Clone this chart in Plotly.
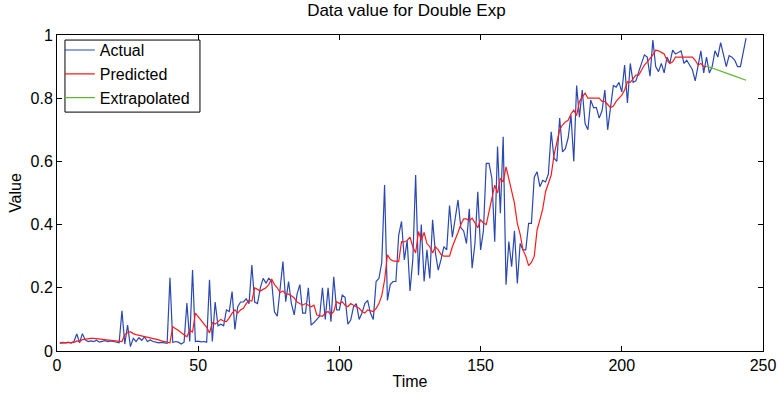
import plotly.graph_objects as go

# ---- data ----
actual = [
    0.025, 0.027, 0.026, 0.028, 0.025, 0.030, 0.054, 0.026, 0.055, 0.035,
    0.030, 0.032, 0.030, 0.034, 0.028, 0.031, 0.033, 0.030, 0.032, 0.030,
    0.028, 0.026, 0.127, 0.022, 0.082, 0.014, 0.040, 0.030, 0.042, 0.034,
    0.045, 0.030, 0.035, 0.030, 0.028, 0.026, 0.027, 0.025, 0.024, 0.232,
    0.027, 0.030, 0.028, 0.022, 0.028, 0.152, 0.030, 0.256, 0.030, 0.031,
    0.029, 0.030, 0.028, 0.225, 0.030, 0.155, 0.080, 0.085, 0.080, 0.130,
    0.125, 0.188, 0.068, 0.140, 0.155, 0.155, 0.165, 0.150, 0.272, 0.155,
    0.150, 0.200, 0.230, 0.215, 0.230, 0.220, 0.124, 0.110, 0.200, 0.283,
    0.156, 0.220, 0.150, 0.114, 0.180, 0.210, 0.120, 0.120, 0.200, 0.082,
    0.090, 0.100, 0.110, 0.200, 0.100, 0.200, 0.093, 0.235, 0.130, 0.130,
    0.177, 0.170, 0.085, 0.098, 0.140, 0.150, 0.100, 0.120, 0.150, 0.160,
    0.120, 0.100, 0.220, 0.230, 0.280, 0.525, 0.160, 0.210, 0.220, 0.220,
    0.367, 0.410, 0.288, 0.350, 0.190, 0.290, 0.557, 0.240, 0.400, 0.220,
    0.320, 0.230, 0.415, 0.310, 0.256, 0.290, 0.330, 0.320, 0.460, 0.360,
    0.415, 0.478, 0.390, 0.380, 0.340, 0.450, 0.262, 0.340, 0.504, 0.320,
    0.380, 0.594, 0.594, 0.546, 0.346, 0.647, 0.436, 0.678, 0.210, 0.346,
    0.267, 0.380, 0.214, 0.340, 0.320, 0.320, 0.404, 0.404, 0.550, 0.567,
    0.520, 0.540, 0.535, 0.560, 0.694, 0.610, 0.600, 0.737, 0.630, 0.640,
    0.674, 0.747, 0.600, 0.840, 0.740, 0.826, 0.720, 0.700, 0.794, 0.770,
    0.770, 0.737, 0.760, 0.826, 0.700, 0.770, 0.840, 0.835, 0.850, 0.820,
    0.905, 0.785, 0.910, 0.850, 0.855, 0.884, 0.910, 0.937, 0.930, 0.870,
    0.984, 0.900, 0.884, 0.910, 0.880, 0.930, 0.910, 0.952, 0.940, 0.945,
    0.950, 0.910, 0.920, 0.905, 0.890, 0.855, 0.900, 0.950, 0.880, 0.930,
    0.880, 0.900, 0.950, 0.930, 0.976, 0.940, 0.900, 0.935, 0.930, 0.920,
    0.900, 0.900, 0.950, 0.990,
]

predicted = [
    0.025, 0.025, 0.026, 0.026, 0.026, 0.027, 0.032, 0.030, 0.036, 0.038,
    0.040, 0.040, 0.040, 0.039, 0.038, 0.037, 0.036, 0.036, 0.035, 0.034,
    0.033, 0.032, 0.030, 0.052, 0.058, 0.061, 0.055, 0.052, 0.050, 0.048,
    0.046, 0.045, 0.043, 0.041, 0.038, 0.035, 0.032, 0.030, 0.028, 0.026,
    0.077, 0.072, 0.065, 0.058, 0.050, 0.045, 0.065, 0.060, 0.120, 0.108,
    0.096, 0.085, 0.075, 0.057, 0.090, 0.085, 0.092, 0.100, 0.095, 0.093,
    0.105, 0.120, 0.130, 0.120, 0.130, 0.135, 0.150, 0.160, 0.158, 0.200,
    0.195, 0.190, 0.195, 0.200, 0.210, 0.228, 0.210, 0.200, 0.185, 0.190,
    0.180, 0.180, 0.175, 0.168, 0.155, 0.150, 0.145, 0.150, 0.145, 0.140,
    0.145, 0.114, 0.112, 0.110, 0.120, 0.125, 0.115, 0.125, 0.156, 0.150,
    0.156, 0.145, 0.140, 0.150, 0.145, 0.140, 0.135, 0.125, 0.120, 0.130,
    0.128, 0.125, 0.135, 0.150, 0.175, 0.224, 0.304, 0.290, 0.285, 0.283,
    0.283, 0.346, 0.345, 0.350, 0.360, 0.330, 0.310, 0.378, 0.350, 0.375,
    0.340, 0.330, 0.310, 0.330, 0.320, 0.305, 0.300, 0.300, 0.300, 0.330,
    0.350, 0.375, 0.400, 0.418, 0.418, 0.412, 0.420, 0.405, 0.390, 0.415,
    0.405, 0.400, 0.440, 0.480, 0.525, 0.500, 0.546, 0.535, 0.583, 0.545,
    0.510, 0.467, 0.404, 0.370, 0.320, 0.300, 0.270, 0.280, 0.300, 0.383,
    0.415, 0.450, 0.504, 0.530, 0.557, 0.620, 0.662, 0.700, 0.715, 0.725,
    0.730, 0.750, 0.762, 0.745, 0.790, 0.805, 0.816, 0.800, 0.800, 0.800,
    0.800, 0.800, 0.790, 0.790, 0.780, 0.770, 0.775, 0.790, 0.800, 0.810,
    0.826, 0.852, 0.850, 0.860, 0.873, 0.873, 0.890, 0.905, 0.915, 0.926,
    0.937, 0.952, 0.950, 0.945, 0.940, 0.920, 0.910, 0.915, 0.930, 0.930,
    0.930, 0.932, 0.930, 0.930, 0.930, 0.920, 0.905, 0.910, 0.900, 0.900,
]

extrap_t = [230, 232, 234, 236, 238, 240, 242, 244]
extrapolated = [0.902, 0.895, 0.889, 0.883, 0.876, 0.870, 0.863, 0.857]

t_actual = list(range(1, len(actual) + 1))
t_pred = list(range(1, len(predicted) + 1))

x_ticks = [0, 50, 100, 150, 200, 250]
y_ticks = [0, 0.2, 0.4, 0.6, 0.8, 1]
y_tick_text = ["0", "0.2", "0.4", "0.6", "0.8", "1"]

FONT = "Liberation Sans, Arial, sans-serif"

fig = go.Figure()
fig.add_trace(go.Scatter(x=t_actual, y=actual, mode="lines", name="Actual",
                         line=dict(color="#2a48b0", width=1.2)))
fig.add_trace(go.Scatter(x=t_pred, y=predicted, mode="lines", name="Predicted",
                         line=dict(color="#ff1a1a", width=1.2)))
fig.add_trace(go.Scatter(x=extrap_t, y=extrapolated, mode="lines", name="Extrapolated",
                         line=dict(color="#5cb82e", width=1.2)))

axis_common = dict(showline=True, linecolor="black", linewidth=1, mirror="ticks",
                   ticks="inside", ticklen=5, tickcolor="black", showgrid=False,
                   zeroline=False, automargin=False,
                   tickfont=dict(family=FONT, size=16, color="black"))

fig.update_layout(
    width=780, height=393,
    margin=dict(l=57, r=17, t=35, b=42, autoexpand=False),
    paper_bgcolor="white", plot_bgcolor="white",
    font=dict(family=FONT, size=16, color="black"),
    title=dict(text="Data value for Double Exp", x=0.521, xanchor="center",
               y=0.99, yanchor="top", font=dict(family=FONT, size=17, color="black")),
    xaxis=dict(range=[0, 250], tickvals=x_ticks, **axis_common,
               title=dict(text="Time", standoff=2, font=dict(family=FONT, size=16))),
    yaxis=dict(range=[0, 1], tickvals=y_ticks, ticktext=y_tick_text, **axis_common,
               title=dict(text="Value", standoff=4, font=dict(family=FONT, size=16))),
    legend=dict(x=0.004, y=1.006, xanchor="left", yanchor="top",
                bgcolor="rgba(0,0,0,0)", borderwidth=0,
                font=dict(family=FONT, size=16, color="black"),
                itemwidth=30, tracegroupgap=0),
    showlegend=True,
    shapes=[dict(type="rect", xref="paper", yref="paper",
                 x0=0.0113, x1=0.2025, y0=0.756, y1=0.984,
                 line=dict(color="black", width=1), fillcolor="white", layer="above")],
)

fig.write_html("out.html")
